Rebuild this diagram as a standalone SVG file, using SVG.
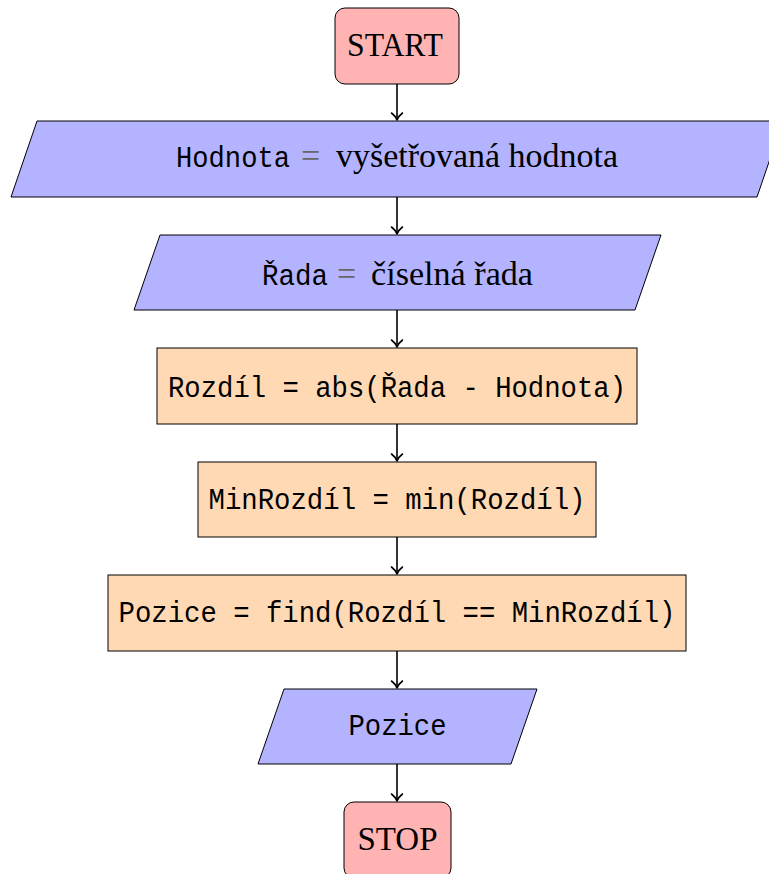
<svg xmlns="http://www.w3.org/2000/svg" width="769" height="874" viewBox="0 0 769 874">
  <style>
    .term { fill: #ffb3b3; stroke: #000; stroke-width: 1; }
    .io { fill: #b3b3ff; stroke: #000; stroke-width: 1; }
    .proc { fill: #ffd9b3; stroke: #000; stroke-width: 1; }
    .rm { font-family: "Liberation Serif", "DejaVu Serif", serif; font-size: 33px; fill: #000; }
    .tt { font-family: "Liberation Mono", "DejaVu Sans Mono", monospace; font-size: 29px; fill: #000; }
    .eq { font-family: "Liberation Serif", "DejaVu Serif", serif; font-size: 34px; fill: #666; }
    .flow { stroke: #000; stroke-width: 1.6; fill: none; }
  </style>
  <defs>
    <marker id="tip" viewBox="-9 -8 11 16" refX="0" refY="0" markerWidth="11" markerHeight="16" markerUnits="userSpaceOnUse" orient="auto">
      <path d="M-7,-5.5 C-4.5,-2.2 -2,-0.7 0,0 C-2,0.7 -4.5,2.2 -7,5.5" fill="none" stroke="#000" stroke-width="1.6" stroke-linecap="round" stroke-linejoin="round"/>
    </marker>
  </defs>

  <rect width="769" height="874" fill="#fff"/>

  <!-- connectors -->
  <g id="connectors">
    <line class="flow" x1="397" y1="84" x2="397" y2="120" marker-end="url(#tip)"/>
    <line class="flow" x1="397" y1="197" x2="397" y2="234" marker-end="url(#tip)"/>
    <line class="flow" x1="397" y1="310" x2="397" y2="347" marker-end="url(#tip)"/>
    <line class="flow" x1="397" y1="424" x2="397" y2="461" marker-end="url(#tip)"/>
    <line class="flow" x1="397" y1="537" x2="397" y2="574" marker-end="url(#tip)"/>
    <line class="flow" x1="397" y1="651" x2="397" y2="688" marker-end="url(#tip)"/>
    <line class="flow" x1="397" y1="764" x2="397" y2="801" marker-end="url(#tip)"/>
  </g>

  <g id="start">
    <rect class="term" x="335" y="8" width="124" height="76" rx="10"/>
    <text class="rm" x="347" y="56" font-size="34" textLength="96" lengthAdjust="spacingAndGlyphs">START</text>
  </g>

  <g id="input-hodnota">
    <polygon class="io" points="37,121 783,121 757,197 11,197"/>
    <text class="tt" x="176" y="167" textLength="114" lengthAdjust="spacingAndGlyphs">Hodnota</text>
    <text class="eq" x="301" y="167">=</text>
    <text class="rm" x="336" y="167" font-size="34" textLength="282" lengthAdjust="spacingAndGlyphs">vyšetřovaná hodnota</text>
  </g>

  <g id="input-rada">
    <polygon class="io" points="160,235 661,235 635,310 134,310"/>
    <text class="tt" x="262" y="285" textLength="66" lengthAdjust="spacingAndGlyphs">Řada</text>
    <text class="eq" x="337" y="285">=</text>
    <text class="rm" x="371" y="285" font-size="34" textLength="162" lengthAdjust="spacingAndGlyphs">číselná řada</text>
  </g>

  <g id="rozdil">
    <rect class="proc" x="157" y="348" width="480" height="76"/>
    <text class="tt" x="397" y="397" text-anchor="middle" textLength="458" lengthAdjust="spacingAndGlyphs">Rozdíl = abs(Řada - Hodnota)</text>
  </g>

  <g id="min-rozdil">
    <rect class="proc" x="198" y="462" width="398" height="75"/>
    <text class="tt" x="397" y="509" text-anchor="middle" textLength="377" lengthAdjust="spacingAndGlyphs">MinRozdíl = min(Rozdíl)</text>
  </g>

  <g id="pozice-find">
    <rect class="proc" x="108" y="575" width="578" height="76"/>
    <text class="tt" x="397" y="622" text-anchor="middle" textLength="557" lengthAdjust="spacingAndGlyphs">Pozice = find(Rozdíl == MinRozdíl)</text>
  </g>

  <g id="output-pozice">
    <polygon class="io" points="284,689 537,689 511,764 258,764"/>
    <text class="tt" x="397.5" y="735" text-anchor="middle" textLength="98" lengthAdjust="spacingAndGlyphs">Pozice</text>
  </g>

  <g id="stop">
    <rect class="term" x="344" y="802" width="107" height="76" rx="10"/>
    <text class="rm" x="397.5" y="850" font-size="34" text-anchor="middle" textLength="80" lengthAdjust="spacingAndGlyphs">STOP</text>
  </g>
</svg>
